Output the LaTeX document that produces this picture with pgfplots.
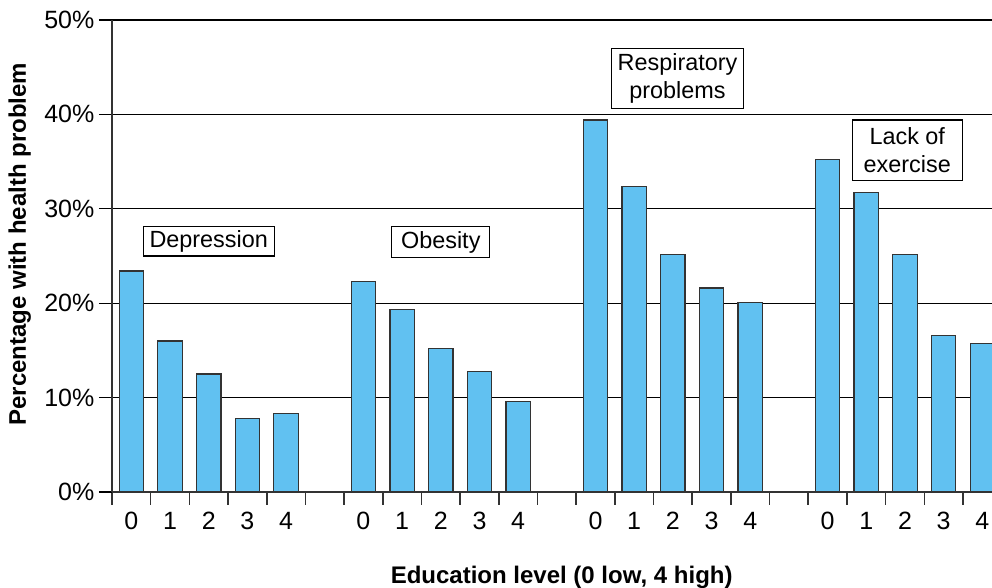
\documentclass[border=0pt]{standalone}
\usepackage{fontspec}
\setmainfont{Liberation Sans}
\usepackage{pgfplots}
\pgfplotsset{compat=1.18}
\definecolor{barblue}{RGB}{97,193,241}
\definecolor{axgray}{RGB}{51,51,51}
\begin{document}
\begin{tikzpicture}
\begin{axis}[
  scale only axis, width=440pt, height=236pt,
  xmin=-0.5, xmax=22.25, ymin=0, ymax=50,
  axis lines=left, axis line style={-, draw=axgray, line width=1pt},
  ytick={0,10,...,50},
  yticklabel={\pgfmathprintnumber{\tick}\%},
  ymajorgrids, grid style={black, line width=0.6pt},
  tick align=outside, major tick length=6.5pt,
  xtick={-0.5,0.5,...,21.5},
  xticklabels={},
  extra x ticks={0,1,2,3,4,6,7,8,9,10,12,13,14,15,16,18,19,20,21,22},
  extra x tick labels={0,1,2,3,4,0,1,2,3,4,0,1,2,3,4,0,1,2,3,4},
  extra x tick style={tick style={draw=none}, grid=none},
  major x tick style={axgray, line width=0.8pt},
  major y tick style={black, line width=0.6pt},
  /pgf/number format/assume math mode=true,
  tick label style={font=\fontsize{12.5}{15}\selectfont},
  yticklabel style={xshift=1.2pt},
  label style={font=\bfseries\fontsize{12}{14}\selectfont},
  xlabel={Education level (0 low, 4 high)},
  ylabel={Percentage with health problem},
  xlabel style={at={(axis description cs:0.511,-0.18)},anchor=center},
  ylabel style={at={(axis description cs:-0.105,0.525)},anchor=center},
  clip=true,
]
\addplot[ybar, bar width=12.2pt, fill=barblue, draw=axgray, line width=0.6pt] coordinates {
 (0,23.4) (1,16.0) (2,12.5) (3,7.8) (4,8.3)
 (6,22.3) (7,19.3) (8,15.2) (9,12.8) (10,9.6)
 (12,39.4) (13,32.4) (14,25.2) (15,21.6) (16,20.1)
 (18,35.2) (19,31.7) (20,25.2) (21,16.6) (22,15.7)
};
\tikzset{anno/.style={draw=black, line width=0.6pt, fill=white, inner xsep=3pt, inner ysep=2pt, font=\fontsize{11.7}{14}\selectfont, align=center}}
\node[anno, minimum width=65.5pt, minimum height=14.5pt] at (axis cs:2.0,26.57) {Depression};
\node[anno, minimum width=49pt, minimum height=15.3pt] at (axis cs:8.0,26.48) {Obesity};
\node[anno, minimum width=65pt, minimum height=30.2pt] at (axis cs:14.12,43.8) {Respiratory\\problems};
\node[anno, minimum width=55pt, minimum height=30.3pt] at (axis cs:20.06,36.2) {Lack of\\exercise};
\end{axis}
\pgfresetboundingbox
\path[use as bounding box] (-56pt,-48pt) rectangle (440pt,246pt);
\end{tikzpicture}
\end{document}
